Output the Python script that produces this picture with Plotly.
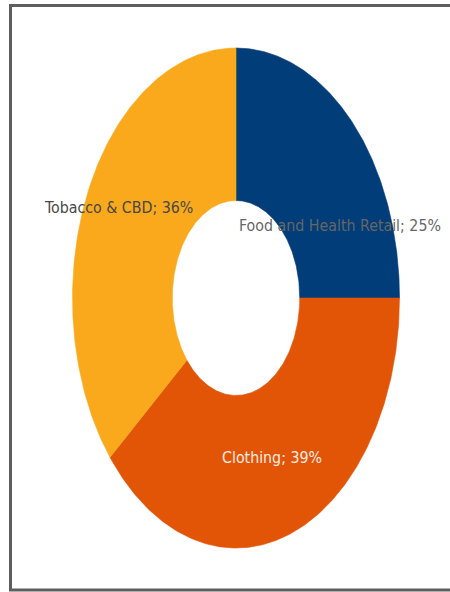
import numpy as np
import plotly.graph_objects as go

# Revenue share by segment
categories = ["Food and Health Retail", "Clothing", "Tobacco & CBD"]
shares = [25, 39, 36]
slice_colors = ["#013D78", "#E35506", "#F9A91B"]
label_colors = ["#666666", "#F7EBE3", "#474747"]

# Page and ring geometry (pixels)
W, H = 450, 592
CX, CY = 236.0, 298.0          # ring centre
RX, RY = 163.5, 250.0          # outer half-widths of the ring
HOLE = 0.39                    # inner radius as a fraction of outer
# label anchor points, one per category
label_px = [(339.5, 225.0), (272.0, 457.0), (118.0, 207.0)]

fig = go.Figure()

total = float(sum(shares))
start = 0.0
for cat, val, col in zip(categories, shares, slice_colors):
    end = start + val / total
    t = np.linspace(start, end, 200) * 2 * np.pi   # clockwise from 12 o'clock
    xo, yo = np.sin(t), np.cos(t)
    xi, yi = HOLE * np.sin(t[::-1]), HOLE * np.cos(t[::-1])
    xs = np.concatenate([xo, xi, xo[:1]])
    ys = np.concatenate([yo, yi, yo[:1]])
    fig.add_trace(go.Scatter(
        x=xs, y=ys, mode="lines", fill="toself",
        fillcolor=col, line=dict(color=col, width=0.6),
        name=cat, hoverinfo="name", showlegend=False,
    ))
    start = end

# data labels
for cat, val, tc, (px, py) in zip(categories, shares, label_colors, label_px):
    fig.add_annotation(
        x=px / W, y=1 - py / H, xref="paper", yref="paper",
        text=f"{cat}; {val}%", showarrow=False,
        xanchor="center", yanchor="middle",
        font=dict(family="DejaVu Sans Condensed, DejaVu Sans, sans-serif",
                  size=15.8, color=tc),
    )

# outer frame (open on the right edge)
fig.add_shape(type="rect", xref="paper", yref="paper",
              x0=10.5 / W, x1=1.05, y0=1 - 590.0 / H, y1=1 - 5.5 / H,
              line=dict(color="#5E5E5E", width=3), fillcolor="rgba(0,0,0,0)")

fig.update_xaxes(range=[-CX / RX, (W - CX) / RX], visible=False, fixedrange=True)
fig.update_yaxes(range=[-(H - CY) / RY, CY / RY], visible=False, fixedrange=True)
fig.update_layout(
    width=W, height=H,
    margin=dict(l=0, r=0, t=0, b=0),
    paper_bgcolor="white", plot_bgcolor="white",
    showlegend=False,
)

fig.write_html("out.html", config={"displayModeBar": False})
